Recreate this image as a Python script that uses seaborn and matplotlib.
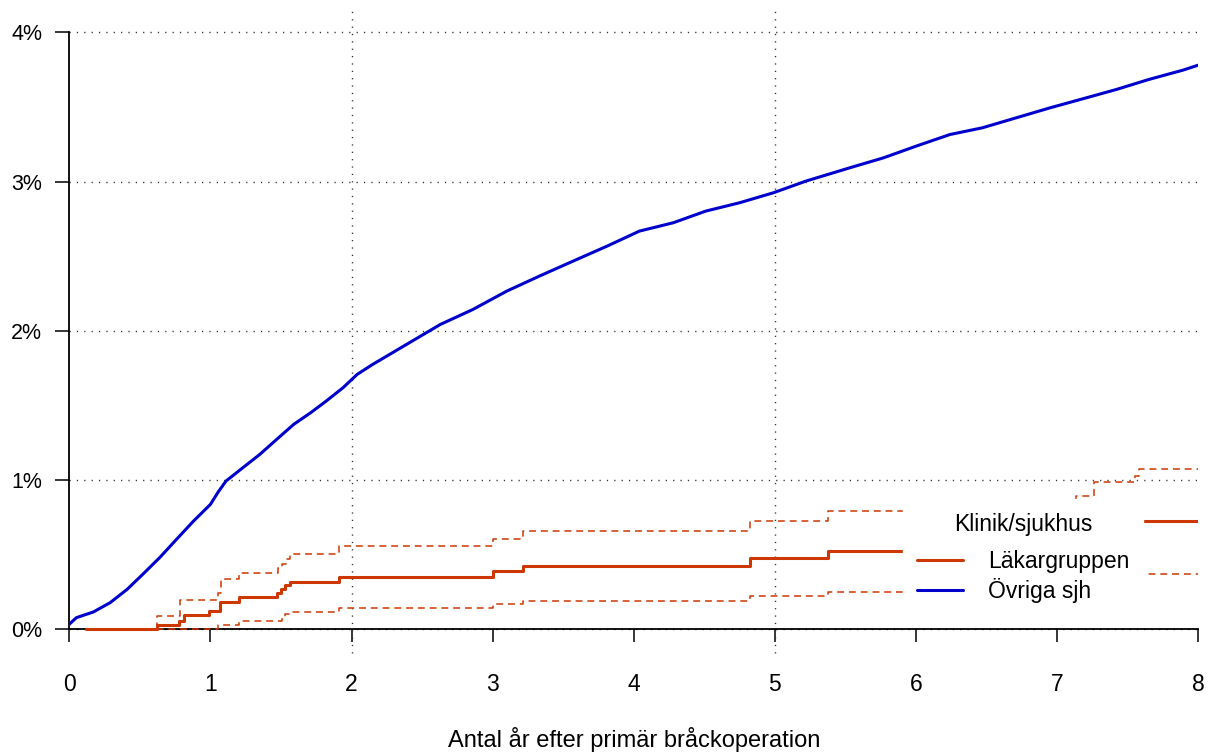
import matplotlib
matplotlib.use("Agg")
import matplotlib.pyplot as plt
import seaborn as sns
import pandas as pd

# Cumulative reoperation rate (%) by years since primary hernia repair
ovriga_years = [0, 0.05, 0.17, 0.29, 0.41, 0.52, 0.64, 0.76, 0.88, 1.0, 1.055, 1.11, 1.23,
                1.35, 1.47, 1.59, 1.71, 1.82, 1.94, 2.04, 2.15, 2.39, 2.63, 2.86, 3.10,
                3.33, 3.57, 3.81, 4.04, 4.28, 4.51, 4.75, 4.99, 5.22, 5.53, 5.77, 6.0,
                6.24, 6.47, 6.71, 6.95, 7.18, 7.42, 7.65, 7.89, 8.0]
ovriga_pct = [0.034, 0.078, 0.116, 0.179, 0.268, 0.368, 0.48, 0.603, 0.725, 0.837, 0.92,
              0.993, 1.083, 1.172, 1.273, 1.373, 1.451, 1.529, 1.619, 1.708, 1.775, 1.909,
              2.043, 2.143, 2.266, 2.366, 2.467, 2.567, 2.668, 2.724, 2.802, 2.858, 2.925,
              3.003, 3.092, 3.159, 3.237, 3.315, 3.36, 3.427, 3.494, 3.554, 3.617, 3.684,
              3.746, 3.78]

lak_years = [0.12, 0.62, 0.778, 0.816, 0.993, 1.069, 1.199, 1.47, 1.50, 1.53, 1.565, 1.91,
             3.0, 3.213, 4.82, 5.373, 6.3, 6.9, 7.3, 8.0]
lak_pct = [0, 0.031, 0.058, 0.094, 0.125, 0.185, 0.218, 0.245, 0.27, 0.295, 0.315, 0.352,
           0.388, 0.425, 0.476, 0.527, 0.58, 0.64, 0.725, 0.725]

lak_upper_years = [0.12, 0.62, 0.781, 1.052, 1.075, 1.199, 1.48, 1.51, 1.54, 1.565, 1.91,
                   3.0, 3.213, 4.82, 5.373, 6.4, 6.9, 7.13, 7.26, 7.55, 7.58, 8.0]
lak_upper_pct = [0, 0.091, 0.196, 0.241, 0.337, 0.379, 0.41, 0.44, 0.47, 0.502, 0.558,
                 0.607, 0.659, 0.724, 0.795, 0.81, 0.83, 0.893, 0.987, 1.03, 1.075, 1.075]

lak_lower_years = [0.12, 1.052, 1.199, 1.505, 1.53, 1.565, 1.91, 3.0, 3.213, 4.82, 5.373,
                   6.3, 6.9, 7.4, 8.0]
lak_lower_pct = [0, 0.031, 0.054, 0.08, 0.10, 0.118, 0.145, 0.167, 0.192, 0.223, 0.252,
                 0.29, 0.32, 0.37, 0.37]

x_ticks = [0, 1, 2, 3, 4, 5, 6, 7, 8]
y_ticks = [0, 1, 2, 3, 4]
y_tick_labels = ["0%", "1%", "2%", "3%", "4%"]
grid_x = [2, 5]
group_names = ["Läkargruppen", "Övriga sjh"]

ORANGE = "#CD3700"
BLUE = "#0000CD"

sns.set_theme(style="ticks")
plt.rcParams["font.family"] = ["Liberation Sans", "DejaVu Sans"]
for key in ["text.color", "axes.labelcolor", "xtick.color", "ytick.color", "axes.edgecolor"]:
    plt.rcParams[key] = "black"

W, H = 1209, 756
fig = plt.figure(figsize=(W / 100, H / 100), dpi=100)
ax = fig.add_axes([69.3 / W, (H - 653.2) / H, 1129 / W, 644.8 / H])
ax.set_xlim(0, 8)
ax.set_ylim(-0.16, 4.16)

# dotted reference grid
dot = (0, (0.9, 4.4))
for y in y_ticks:
    ax.axhline(y, color="#333333", lw=1.0, ls=dot, zorder=1)
for x in grid_x:
    ax.axvline(x, color="#333333", lw=1.0, ls=dot, zorder=1, clip_on=False)

df_ov = pd.DataFrame({"år": ovriga_years, "andel": ovriga_pct})
df_lak = pd.DataFrame({"år": lak_years, "andel": lak_pct})
df_up = pd.DataFrame({"år": lak_upper_years, "andel": lak_upper_pct})
df_lo = pd.DataFrame({"år": lak_lower_years, "andel": lak_lower_pct})

dash = (0, (4.5, 3.2))
sns.lineplot(data=df_up, x="år", y="andel", ax=ax, color=ORANGE, lw=1.1, linestyle=dash,
             drawstyle="steps-post", estimator=None, sort=False, zorder=3)
sns.lineplot(data=df_lo, x="år", y="andel", ax=ax, color=ORANGE, lw=1.1, linestyle=dash,
             drawstyle="steps-post", estimator=None, sort=False, zorder=3)
sns.lineplot(data=df_lak, x="år", y="andel", ax=ax, color=ORANGE, lw=2.2,
             drawstyle="steps-post", estimator=None, sort=False, zorder=3)
h_lak = ax.lines[-1]
sns.lineplot(data=df_ov, x="år", y="andel", ax=ax, color=BLUE, lw=2.2,
             estimator=None, sort=False, zorder=3)
h_ov = ax.lines[-1]

# axes in base-graphics style: lines only across the data range
for side in ["top", "right"]:
    ax.spines[side].set_visible(False)
ax.spines["bottom"].set_position(("data", 0))
ax.spines["bottom"].set_bounds(0, 8)
ax.spines["left"].set_bounds(0, 4)
for side in ["bottom", "left"]:
    ax.spines[side].set_linewidth(1.3)
    ax.spines[side].set_zorder(2.5)

ax.set_xticks(x_ticks)
ax.set_xticklabels([str(t) for t in x_ticks])
ax.set_yticks(y_ticks)
ax.set_yticklabels(y_tick_labels)
ax.tick_params(axis="x", length=9.5, width=1.1, pad=22, labelsize=16.5, direction="out")
ax.tick_params(axis="y", length=10, width=1.1, pad=9.5, labelsize=15.5, direction="out")

ax.set_ylabel("")
ax.set_xlabel("Antal år efter primär bråckoperation", fontsize=17)
ax.xaxis.set_label_coords(0.5, -0.115)

leg = ax.legend([h_lak, h_ov], group_names, title="Klinik/sjukhus",
                loc="upper left", bbox_to_anchor=(903 / W, (H - 499) / H),
                bbox_transform=fig.transFigure, borderaxespad=0,
                fontsize=16.5, title_fontsize=16.5, frameon=True, fancybox=False,
                facecolor="white", edgecolor="white", framealpha=1,
                borderpad=0.6, handlelength=2.0, handletextpad=1.1, labelspacing=0.2)
# extra room between the legend title and its entries
leg._legend_box.sep = 10.5
leg.set_zorder(5)

fig.savefig("out.png", dpi=100)
